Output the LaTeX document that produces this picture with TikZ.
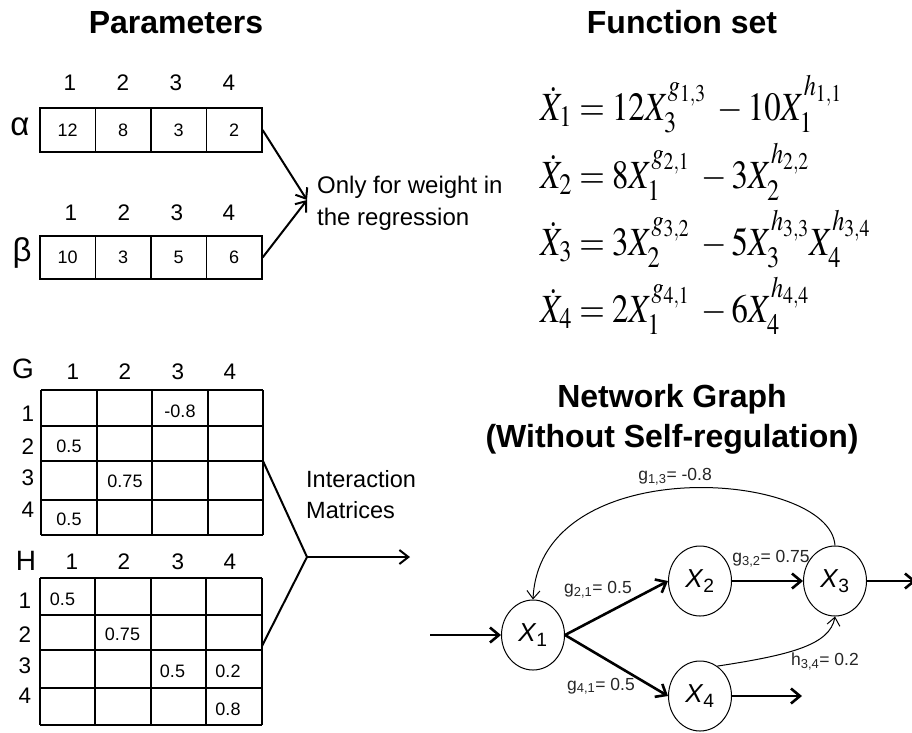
\documentclass[tikz,border=0pt]{standalone}
\usepackage{mathptmx}
\usepackage[no-math]{fontspec}
\setmainfont{Liberation Sans}
\usepackage{graphicx}
\usetikzlibrary{arrows.meta,shapes.geometric}
\newcommand\eqsc[1]{\scalebox{0.82}[1]{#1}}
\tikzset{
  ttl/.style={font=\fontsize{32}{38}\selectfont\bfseries, anchor=base, inner sep=0},
  hdr/.style={font=\fontsize{22.5}{26}\selectfont, anchor=base, inner sep=0},
  big/.style={font=\fontsize{28}{32}\selectfont, anchor=base, inner sep=0},
  greek/.style={font=\fontsize{33}{38}\selectfont, anchor=base, inner sep=0},
  val/.style={font=\fontsize{18}{21}\selectfont, anchor=base, inner sep=0},
  txt/.style={font=\fontsize{23.5}{28}\selectfont, anchor=base west, inner sep=0},
  lbl/.style={font=\fontsize{17.5}{20}\selectfont, anchor=base, inner sep=0, text=black!85},
  cellbox/.style={draw, line width=1.2pt, minimum width=55.5pt, minimum height=44pt, inner sep=0, font=\fontsize{18}{21}\selectfont},
  var/.style={ellipse, draw, line width=1pt, minimum width=63pt, minimum height=70pt, inner sep=0, font=\fontsize{26}{30}\selectfont},
  eq/.style={anchor=base west, inner sep=0, font=\fontsize{40}{48}\selectfont},
  gridline/.style={line width=1.2pt},
  thinarr/.style={line width=1pt, -{Straight Barb[length=8pt,width=13pt]}},
  midarr/.style={line width=2pt, -{Straight Barb[length=9pt,width=14pt]}},
  thkarr/.style={line width=2.6pt, -{Straight Barb[length=9pt,width=15pt]}},
}
\begin{document}
\begin{tikzpicture}[x=1pt,y=-1pt]
\useasboundingbox (0,0) rectangle (912,732);
\clip (0,0) rectangle (912,732);
\fill[white] (0,0) rectangle (912,732);

% Titles
\node[ttl] (tpar) at (176,33) {Parameters};
\node[ttl] (tfun) at (682,33) {Function set};
\node[ttl] (tnet1) at (672,407) {Network Graph};
\node[ttl] (tnet2) at (672,447) {(Without Self-regulation)};

% Parameters alpha
\node[greek] (alab) at (20,135) {α};
\foreach \i/\x in {1/70,2/123,3/176,4/229}{\node[hdr] (ah\i) at (\x,90) {\i};}
\node[cellbox] (a1) at (67.75,130) {12};
\node[cellbox] (a2) at (123.25,130) {8};
\node[cellbox] (a3) at (178.75,130) {3};
\node[cellbox] (a4) at (234.25,130) {2};
% beta
\node[greek] (blab) at (22,261) {β};
\foreach \i/\x in {1/71,2/124,3/177,4/229}{\node[hdr] (bh\i) at (\x,220) {\i};}
\node[cellbox, minimum height=43pt] (b1) at (67.75,257.5) {10};
\node[cellbox, minimum height=43pt] (b2) at (123.25,257.5) {3};
\node[cellbox, minimum height=43pt] (b3) at (178.75,257.5) {5};
\node[cellbox, minimum height=43pt] (b4) at (234.25,257.5) {6};

\coordinate (wpt) at (307,200);
\draw[midarr] (a4.east) -- (wpt);
\draw[midarr] (b4.east) -- (wpt);
\node[txt, font=\fontsize{24}{28}\selectfont] (w1) at (317,193) {Only for weight in};
\node[txt, font=\fontsize{24}{28}\selectfont] (w2) at (317,225) {the regression};

% Equations
\node[eq] (e1) at (540,120) {\eqsc{$\dot X_1 = 12X_3^{g_{1,3}}\;-10X_1^{h_{1,1}}$}};
\node[eq] (e2) at (540,188) {\eqsc{$\dot X_2 = 8X_1^{g_{2,1}}\;-3X_2^{h_{2,2}}$}};
\node[eq] (e3) at (540,255) {\eqsc{$\dot X_3 = 3X_2^{g_{3,2}}\;-5X_3^{h_{3,3}}X_4^{h_{3,4}}$}};
\node[eq] (e4) at (540,322) {\eqsc{$\dot X_4 = 2X_1^{g_{4,1}}\;-6X_4^{h_{4,4}}$}};

% G matrix
\node[big] (glab) at (23,378) {G};
\foreach \i/\x in {1/73,2/125,3/178,4/230}{\node[hdr] (gh\i) at (\x,379) {\i};}
\foreach \i/\y in {1/421,2/454,3/485,4/517}{\node[hdr] (gr\i) at (28,\y) {\i};}
\foreach \y in {390,426,461,500,535}{\draw[gridline] (41,\y) -- (263,\y);}
\foreach \x in {41,97,152,208,263}{\draw[gridline] (\x,390) -- (\x,535);}
\node[val] (g13) at (180,417) {-0.8};
\node[val] (g21) at (69,452) {0.5};
\node[val] (g32) at (125,487) {0.75};
\node[val] (g41) at (69,525) {0.5};

% H matrix
\node[big] (hlab) at (26,570) {H};
\foreach \i/\x in {1/72,2/124,3/178,4/230}{\node[hdr] (hh\i) at (\x,569) {\i};}
\foreach \i/\y in {1/608,2/642,3/673,4/703}{\node[hdr] (hr\i) at (25,\y) {\i};}
\foreach \y in {578,615,650,688,725}{\draw[gridline] (40,\y) -- (262,\y);}
\foreach \x in {40,95,151,206,262}{\draw[gridline] (\x,578) -- (\x,725);}
\node[val] (h11) at (62.5,605) {0.5};
\node[val] (h22) at (122.5,640) {0.75};
\node[val] (h33) at (172.5,677) {0.5};
\node[val] (h34) at (228,677) {0.2};
\node[val] (h44) at (228,715) {0.8};

% Interaction arrow
\coordinate (gR) at (263,461);
\coordinate (hR) at (262,646);
\coordinate (mid) at (307,557);
\coordinate (mEnd) at (410,557);
\draw[line width=2pt] (gR) -- (mid) -- (hR);
\draw[midarr] (mid) -- (mEnd);
\node[txt] (i1) at (306,487) {Interaction};
\node[txt] (i2) at (306,518) {Matrices};

% Network graph
\node[var] (X1) at (533,635) {\textit{X}\textsubscript{1}};
\node[var] (X2) at (700,581) {\textit{X}\textsubscript{2}};
\node[var] (X3) at (835,581) {\textit{X}\textsubscript{3}};
\node[var] (X4) at (700,696) {\textit{X}\textsubscript{4}};
\coordinate (inpt) at (430,635);
\coordinate (out3) at (916,581);
\coordinate (out4) at (802,696);
\draw[thkarr] (inpt) -- (X1.west);
\draw[thkarr] (X1.east) -- (X2.west);
\draw[thkarr] (X1.east) -- (X4.west);
\draw[thkarr] (X2.east) -- (X3.west);
\draw[thkarr] (X3.east) -- (out3);
\draw[thkarr] (X4.east) -- (out4);
\draw[thinarr] (X3.north) .. controls (830,470) and (540,450) .. (X1.north);
\draw[thinarr] (X4.60) .. controls (790,655) and (830,645) .. (X3.south);

\node[lbl] (l13) at (675,480) {g\textsubscript{1,3}= -0.8};
\node[lbl] (l21) at (598,593) {g\textsubscript{2,1}= 0.5};
\node[lbl] (l32) at (771,562) {g\textsubscript{3,2}= 0.75};
\node[lbl] (l41) at (601,690) {g\textsubscript{4,1}= 0.5};
\node[lbl] (l34) at (825,665) {h\textsubscript{3,4}= 0.2};
\end{tikzpicture}
\end{document}
